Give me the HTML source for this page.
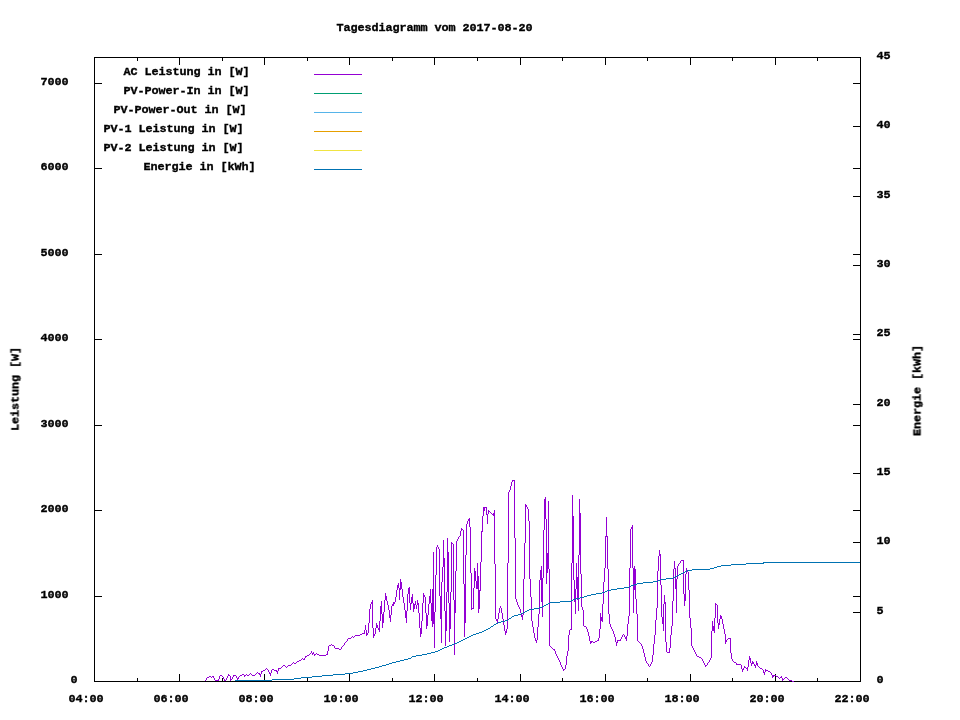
<!DOCTYPE html>
<html><head><meta charset="utf-8"><title>Tagesdiagramm vom 2017-08-20</title>
<style>
html,body{margin:0;padding:0;background:#fff;}
body{width:960px;height:720px;overflow:hidden;}
svg{display:block;}
</style></head><body>
<svg width="960" height="720" viewBox="0 0 960 720">
<rect x="0" y="0" width="960" height="720" fill="#fff"/>
<g shape-rendering="crispEdges">
<rect x="94" y="57" width="767" height="1" fill="#000"/>
<rect x="94" y="681" width="767" height="1" fill="#000"/>
<rect x="94" y="57" width="1" height="625" fill="#000"/>
<rect x="860" y="57" width="1" height="625" fill="#000"/>
<rect x="94" y="674" width="1" height="8" fill="#000"/>
<rect x="94" y="57" width="1" height="8" fill="#000"/>
<rect x="137" y="678" width="1" height="4" fill="#000"/>
<rect x="137" y="57" width="1" height="4" fill="#000"/>
<rect x="179" y="674" width="1" height="8" fill="#000"/>
<rect x="179" y="57" width="1" height="8" fill="#000"/>
<rect x="222" y="678" width="1" height="4" fill="#000"/>
<rect x="222" y="57" width="1" height="4" fill="#000"/>
<rect x="264" y="674" width="1" height="8" fill="#000"/>
<rect x="264" y="57" width="1" height="8" fill="#000"/>
<rect x="307" y="678" width="1" height="4" fill="#000"/>
<rect x="307" y="57" width="1" height="4" fill="#000"/>
<rect x="349" y="674" width="1" height="8" fill="#000"/>
<rect x="349" y="57" width="1" height="8" fill="#000"/>
<rect x="392" y="678" width="1" height="4" fill="#000"/>
<rect x="392" y="57" width="1" height="4" fill="#000"/>
<rect x="434" y="674" width="1" height="8" fill="#000"/>
<rect x="434" y="57" width="1" height="8" fill="#000"/>
<rect x="477" y="678" width="1" height="4" fill="#000"/>
<rect x="477" y="57" width="1" height="4" fill="#000"/>
<rect x="520" y="674" width="1" height="8" fill="#000"/>
<rect x="520" y="57" width="1" height="8" fill="#000"/>
<rect x="562" y="678" width="1" height="4" fill="#000"/>
<rect x="562" y="57" width="1" height="4" fill="#000"/>
<rect x="605" y="674" width="1" height="8" fill="#000"/>
<rect x="605" y="57" width="1" height="8" fill="#000"/>
<rect x="647" y="678" width="1" height="4" fill="#000"/>
<rect x="647" y="57" width="1" height="4" fill="#000"/>
<rect x="690" y="674" width="1" height="8" fill="#000"/>
<rect x="690" y="57" width="1" height="8" fill="#000"/>
<rect x="732" y="678" width="1" height="4" fill="#000"/>
<rect x="732" y="57" width="1" height="4" fill="#000"/>
<rect x="775" y="674" width="1" height="8" fill="#000"/>
<rect x="775" y="57" width="1" height="8" fill="#000"/>
<rect x="817" y="678" width="1" height="4" fill="#000"/>
<rect x="817" y="57" width="1" height="4" fill="#000"/>
<rect x="860" y="674" width="1" height="8" fill="#000"/>
<rect x="860" y="57" width="1" height="8" fill="#000"/>
<rect x="94" y="681" width="8" height="1" fill="#000"/>
<rect x="853" y="681" width="8" height="1" fill="#000"/>
<rect x="94" y="596" width="8" height="1" fill="#000"/>
<rect x="853" y="596" width="8" height="1" fill="#000"/>
<rect x="94" y="510" width="8" height="1" fill="#000"/>
<rect x="853" y="510" width="8" height="1" fill="#000"/>
<rect x="94" y="425" width="8" height="1" fill="#000"/>
<rect x="853" y="425" width="8" height="1" fill="#000"/>
<rect x="94" y="339" width="8" height="1" fill="#000"/>
<rect x="853" y="339" width="8" height="1" fill="#000"/>
<rect x="94" y="254" width="8" height="1" fill="#000"/>
<rect x="853" y="254" width="8" height="1" fill="#000"/>
<rect x="94" y="168" width="8" height="1" fill="#000"/>
<rect x="853" y="168" width="8" height="1" fill="#000"/>
<rect x="94" y="83" width="8" height="1" fill="#000"/>
<rect x="853" y="83" width="8" height="1" fill="#000"/>
<rect x="853" y="681" width="8" height="1" fill="#000"/>
<rect x="853" y="612" width="8" height="1" fill="#000"/>
<rect x="853" y="542" width="8" height="1" fill="#000"/>
<rect x="853" y="473" width="8" height="1" fill="#000"/>
<rect x="853" y="404" width="8" height="1" fill="#000"/>
<rect x="853" y="334" width="8" height="1" fill="#000"/>
<rect x="853" y="265" width="8" height="1" fill="#000"/>
<rect x="853" y="196" width="8" height="1" fill="#000"/>
<rect x="853" y="126" width="8" height="1" fill="#000"/>
<rect x="853" y="57" width="8" height="1" fill="#000"/>
<rect x="314" y="74" width="48" height="1" fill="#9400d3"/>
<rect x="314" y="93" width="48" height="1" fill="#009e73"/>
<rect x="314" y="112" width="48" height="1" fill="#56b4e9"/>
<rect x="314" y="131" width="48" height="1" fill="#e69f00"/>
<rect x="314" y="150" width="48" height="1" fill="#f0e442"/>
<rect x="314" y="169" width="48" height="1" fill="#0072b2"/>
</g>
<path fill="#9400d3" shape-rendering="crispEdges" d="M205 680h1v1h-1zM206 678h1v2h-1zM207 677h1v1h-1zM208 677h1v1h-1zM209 676h1v1h-1zM210 676h1v1h-1zM211 677h1v1h-1zM212 676h1v1h-1zM213 676h1v2h-1zM214 678h1v2h-1zM215 680h1v1h-1zM216 680h1v1h-1zM217 680h1v1h-1zM218 679h1v2h-1zM219 676h1v3h-1zM220 675h1v1h-1zM221 675h1v1h-1zM222 676h1v1h-1zM223 677h1v2h-1zM224 679h1v2h-1zM225 680h1v1h-1zM226 678h1v2h-1zM227 676h1v2h-1zM228 674h1v2h-1zM229 675h1v1h-1zM230 676h1v5h-1zM231 679h1v1h-1zM232 677h1v2h-1zM233 675h1v2h-1zM234 675h1v1h-1zM235 675h1v1h-1zM236 676h1v2h-1zM237 678h1v2h-1zM238 677h1v2h-1zM239 676h1v1h-1zM240 675h1v1h-1zM241 675h1v1h-1zM242 674h1v1h-1zM243 674h1v1h-1zM244 675h1v2h-1zM245 675h1v1h-1zM246 674h1v1h-1zM247 675h1v1h-1zM248 675h1v1h-1zM249 674h1v1h-1zM250 673h1v1h-1zM251 674h1v1h-1zM252 675h1v1h-1zM253 675h1v1h-1zM254 675h1v1h-1zM255 674h1v1h-1zM256 673h1v1h-1zM257 672h1v1h-1zM258 673h1v1h-1zM259 673h1v2h-1zM260 674h1v3h-1zM261 671h1v3h-1zM262 671h1v1h-1zM263 670h1v1h-1zM264 670h1v1h-1zM265 669h1v1h-1zM266 668h1v1h-1zM267 669h1v1h-1zM268 670h1v2h-1zM269 672h1v2h-1zM270 673h1v3h-1zM271 670h1v3h-1zM272 669h1v1h-1zM273 669h1v1h-1zM274 670h1v1h-1zM275 670h1v1h-1zM276 670h1v2h-1zM277 671h1v3h-1zM278 668h1v3h-1zM279 668h1v1h-1zM280 668h1v1h-1zM281 667h1v1h-1zM282 666h1v1h-1zM283 665h1v1h-1zM284 665h1v1h-1zM285 666h1v1h-1zM286 667h1v1h-1zM287 666h1v1h-1zM288 665h1v1h-1zM289 665h1v1h-1zM290 665h1v1h-1zM291 664h1v1h-1zM292 663h1v1h-1zM293 662h1v1h-1zM294 663h1v1h-1zM295 663h1v1h-1zM296 662h1v1h-1zM297 661h1v1h-1zM298 661h1v1h-1zM299 660h1v1h-1zM300 660h1v1h-1zM301 659h1v1h-1zM302 658h1v1h-1zM303 659h1v1h-1zM304 658h1v2h-1zM305 656h1v2h-1zM306 656h1v1h-1zM307 655h1v1h-1zM308 655h1v1h-1zM309 654h1v1h-1zM310 653h1v1h-1zM311 651h1v2h-1zM312 653h1v2h-1zM313 652h1v2h-1zM314 654h1v2h-1zM315 654h1v1h-1zM316 653h1v1h-1zM317 654h1v1h-1zM318 654h1v1h-1zM319 655h1v1h-1zM320 655h1v1h-1zM321 655h1v1h-1zM322 655h1v1h-1zM323 655h1v1h-1zM324 655h1v1h-1zM325 655h1v1h-1zM326 654h1v1h-1zM327 651h1v4h-1zM328 646h1v5h-1zM329 645h1v1h-1zM330 645h1v1h-1zM331 644h1v1h-1zM332 645h1v1h-1zM333 645h1v1h-1zM334 646h1v2h-1zM335 648h1v1h-1zM336 648h1v1h-1zM337 648h1v1h-1zM338 648h1v1h-1zM339 649h1v1h-1zM340 649h1v1h-1zM341 647h1v2h-1zM342 646h1v1h-1zM343 645h1v1h-1zM344 643h1v2h-1zM345 642h1v1h-1zM346 641h1v1h-1zM347 639h1v2h-1zM348 638h1v1h-1zM349 638h1v1h-1zM350 638h1v1h-1zM351 637h1v1h-1zM352 636h1v1h-1zM353 637h1v1h-1zM354 636h1v1h-1zM355 635h1v1h-1zM356 635h1v1h-1zM357 635h1v1h-1zM358 635h1v1h-1zM359 635h1v1h-1zM360 634h1v1h-1zM361 634h1v1h-1zM362 633h1v1h-1zM363 633h1v1h-1zM364 630h1v4h-1zM365 625h1v5h-1zM366 630h1v6h-1zM367 633h1v2h-1zM368 623h1v10h-1zM369 609h1v14h-1zM370 604h1v5h-1zM371 602h1v2h-1zM372 600h1v28h-1zM373 628h1v10h-1zM374 634h1v2h-1zM375 628h1v6h-1zM376 623h1v5h-1zM377 625h1v3h-1zM378 628h1v2h-1zM379 621h1v11h-1zM380 606h1v15h-1zM381 601h1v13h-1zM382 614h1v14h-1zM383 612h1v11h-1zM384 600h1v12h-1zM385 593h1v7h-1zM386 596h1v5h-1zM387 601h1v4h-1zM388 605h1v5h-1zM389 610h1v8h-1zM390 615h1v7h-1zM391 606h1v9h-1zM392 604h1v2h-1zM393 602h1v4h-1zM394 602h1v2h-1zM395 597h1v5h-1zM396 590h1v7h-1zM397 585h1v5h-1zM398 583h1v5h-1zM399 588h1v12h-1zM400 579h1v11h-1zM401 582h1v7h-1zM402 589h1v8h-1zM403 597h1v6h-1zM404 603h1v7h-1zM405 610h1v8h-1zM406 611h1v12h-1zM407 594h1v17h-1zM408 588h1v6h-1zM409 587h1v16h-1zM410 603h1v7h-1zM411 597h1v7h-1zM412 594h1v9h-1zM413 603h1v9h-1zM414 604h1v5h-1zM415 601h1v4h-1zM416 605h1v4h-1zM417 600h1v5h-1zM418 603h1v10h-1zM419 613h1v15h-1zM420 628h1v9h-1zM421 621h1v13h-1zM422 603h1v18h-1zM423 593h1v10h-1zM424 595h1v2h-1zM425 597h1v16h-1zM426 613h1v16h-1zM427 615h1v11h-1zM428 604h1v11h-1zM429 596h1v8h-1zM430 589h1v14h-1zM431 603h1v18h-1zM432 589h1v38h-1zM433 552h1v72h-1zM434 612h1v36h-1zM435 575h1v37h-1zM436 547h1v28h-1zM437 545h1v2h-1zM438 547h1v2h-1zM439 549h1v47h-1zM440 596h1v23h-1zM441 582h1v61h-1zM442 567h1v15h-1zM443 540h1v27h-1zM444 558h1v53h-1zM445 611h1v35h-1zM446 592h1v39h-1zM447 538h1v54h-1zM448 552h1v51h-1zM449 603h1v39h-1zM450 592h1v37h-1zM451 542h1v50h-1zM452 543h1v1h-1zM453 544h1v56h-1zM454 600h1v55h-1zM455 571h1v42h-1zM456 541h1v30h-1zM457 539h1v2h-1zM458 537h1v2h-1zM459 536h1v1h-1zM460 531h1v5h-1zM461 528h1v3h-1zM462 529h1v1h-1zM463 530h1v54h-1zM464 584h1v53h-1zM465 555h1v68h-1zM466 524h1v31h-1zM467 521h1v3h-1zM468 519h1v2h-1zM469 518h1v9h-1zM470 527h1v46h-1zM471 573h1v37h-1zM472 608h1v1h-1zM473 588h1v21h-1zM474 568h1v20h-1zM475 571h1v10h-1zM476 581h1v8h-1zM477 563h1v26h-1zM478 576h1v37h-1zM479 590h1v19h-1zM480 562h1v29h-1zM481 531h1v31h-1zM482 516h1v16h-1zM483 507h1v9h-1zM484 507h1v4h-1zM485 507h1v1h-1zM486 507h1v8h-1zM487 514h1v10h-1zM488 510h1v4h-1zM489 511h1v1h-1zM490 512h1v1h-1zM491 513h1v1h-1zM492 514h1v1h-1zM493 513h1v3h-1zM494 510h1v54h-1zM495 564h1v55h-1zM496 619h1v2h-1zM497 619h1v4h-1zM498 613h1v6h-1zM499 608h1v5h-1zM500 606h1v2h-1zM501 608h1v5h-1zM502 613h1v6h-1zM503 619h1v6h-1zM504 625h1v6h-1zM505 631h1v4h-1zM506 629h1v4h-1zM507 563h1v66h-1zM508 492h1v71h-1zM509 490h1v2h-1zM510 486h1v4h-1zM511 482h1v4h-1zM512 480h1v2h-1zM513 480h1v1h-1zM514 480h1v58h-1zM515 538h1v61h-1zM516 599h1v3h-1zM517 602h1v3h-1zM518 605h1v2h-1zM519 607h1v2h-1zM520 609h1v4h-1zM521 613h1v4h-1zM522 615h1v5h-1zM523 579h1v36h-1zM524 543h1v36h-1zM525 504h1v39h-1zM526 505h1v2h-1zM527 507h1v2h-1zM528 509h1v12h-1zM529 521h1v58h-1zM530 579h1v18h-1zM531 597h1v24h-1zM532 621h1v6h-1zM533 627h1v6h-1zM534 633h1v5h-1zM535 638h1v3h-1zM536 640h1v3h-1zM537 627h1v13h-1zM538 614h1v13h-1zM539 580h1v34h-1zM540 570h1v10h-1zM541 566h1v36h-1zM542 578h1v39h-1zM543 530h1v48h-1zM544 499h1v31h-1zM545 497h1v22h-1zM546 519h1v65h-1zM547 553h1v20h-1zM548 501h1v68h-1zM549 569h1v77h-1zM550 646h1v1h-1zM551 647h1v1h-1zM552 648h1v1h-1zM553 649h1v1h-1zM554 649h1v2h-1zM555 651h1v3h-1zM556 654h1v2h-1zM557 656h1v2h-1zM558 658h1v2h-1zM559 660h1v2h-1zM560 662h1v3h-1zM561 665h1v2h-1zM562 667h1v2h-1zM563 669h1v2h-1zM564 669h1v1h-1zM565 665h1v4h-1zM566 656h1v9h-1zM567 651h1v5h-1zM568 635h1v16h-1zM569 630h1v5h-1zM570 629h1v1h-1zM571 563h1v67h-1zM572 495h1v68h-1zM573 516h1v64h-1zM574 580h1v22h-1zM575 589h1v25h-1zM576 563h1v26h-1zM577 577h1v23h-1zM578 555h1v56h-1zM579 499h1v56h-1zM580 513h1v61h-1zM581 574h1v33h-1zM582 607h1v3h-1zM583 610h1v16h-1zM584 626h1v1h-1zM585 626h1v1h-1zM586 627h1v2h-1zM587 629h1v3h-1zM588 632h1v4h-1zM589 636h1v5h-1zM590 641h1v3h-1zM591 641h1v2h-1zM592 641h1v1h-1zM593 642h1v1h-1zM594 642h1v1h-1zM595 641h1v1h-1zM596 641h1v1h-1zM597 640h1v1h-1zM598 638h1v3h-1zM599 629h1v9h-1zM600 613h1v16h-1zM601 617h1v4h-1zM602 604h1v18h-1zM603 582h1v22h-1zM604 568h1v14h-1zM605 536h1v32h-1zM606 517h1v20h-1zM607 536h1v33h-1zM608 569h1v45h-1zM609 614h1v10h-1zM610 624h1v3h-1zM611 627h1v2h-1zM612 629h1v2h-1zM613 631h1v3h-1zM614 634h1v3h-1zM615 637h1v5h-1zM616 642h1v4h-1zM617 640h1v3h-1zM618 640h1v1h-1zM619 640h1v1h-1zM620 639h1v2h-1zM621 637h1v2h-1zM622 635h1v2h-1zM623 634h1v1h-1zM624 635h1v2h-1zM625 637h1v2h-1zM626 636h1v5h-1zM627 624h1v12h-1zM628 616h1v8h-1zM629 568h1v48h-1zM630 529h1v39h-1zM631 527h1v2h-1zM632 525h1v43h-1zM633 568h1v45h-1zM634 566h1v24h-1zM635 569h1v30h-1zM636 599h1v15h-1zM637 614h1v27h-1zM638 641h1v1h-1zM639 642h1v1h-1zM640 643h1v1h-1zM641 644h1v2h-1zM642 646h1v3h-1zM643 649h1v4h-1zM644 653h1v4h-1zM645 657h1v4h-1zM646 661h1v2h-1zM647 663h1v1h-1zM648 664h1v2h-1zM649 666h1v1h-1zM650 664h1v2h-1zM651 662h1v2h-1zM652 655h1v7h-1zM653 644h1v11h-1zM654 635h1v9h-1zM655 620h1v15h-1zM656 608h1v12h-1zM657 571h1v37h-1zM658 556h1v15h-1zM659 550h1v6h-1zM660 554h1v31h-1zM661 585h1v32h-1zM662 617h1v7h-1zM663 604h1v27h-1zM664 595h1v9h-1zM665 602h1v40h-1zM666 642h1v10h-1zM667 652h1v1h-1zM668 652h1v1h-1zM669 648h1v5h-1zM670 635h1v13h-1zM671 626h1v9h-1zM672 601h1v25h-1zM673 569h1v32h-1zM674 561h1v8h-1zM675 568h1v21h-1zM676 579h1v34h-1zM677 566h1v13h-1zM678 564h1v2h-1zM679 563h1v1h-1zM680 561h1v2h-1zM681 560h1v1h-1zM682 560h1v1h-1zM683 560h1v34h-1zM684 594h1v12h-1zM685 574h1v27h-1zM686 568h1v6h-1zM687 570h1v2h-1zM688 572h1v18h-1zM689 590h1v28h-1zM690 618h1v10h-1zM691 628h1v18h-1zM692 646h1v2h-1zM693 648h1v2h-1zM694 650h1v2h-1zM695 652h1v2h-1zM696 654h1v2h-1zM697 656h1v1h-1zM698 656h1v1h-1zM699 657h1v1h-1zM700 657h1v1h-1zM701 658h1v1h-1zM702 659h1v2h-1zM703 661h1v2h-1zM704 663h1v2h-1zM705 665h1v2h-1zM706 665h1v1h-1zM707 663h1v2h-1zM708 662h1v1h-1zM709 660h1v2h-1zM710 658h1v2h-1zM711 631h1v27h-1zM712 621h1v10h-1zM713 626h1v5h-1zM714 618h1v15h-1zM715 603h1v15h-1zM716 604h1v1h-1zM717 605h1v18h-1zM718 623h1v6h-1zM719 619h1v6h-1zM720 615h1v4h-1zM721 616h1v3h-1zM722 619h1v5h-1zM723 624h1v5h-1zM724 629h1v5h-1zM725 634h1v10h-1zM726 640h1v2h-1zM727 639h1v1h-1zM728 638h1v1h-1zM729 638h1v1h-1zM730 638h1v15h-1zM731 653h1v6h-1zM732 659h1v2h-1zM733 661h1v1h-1zM734 662h1v1h-1zM735 662h1v1h-1zM736 663h1v2h-1zM737 664h1v1h-1zM738 664h1v1h-1zM739 664h1v1h-1zM740 664h1v1h-1zM741 665h1v4h-1zM742 669h1v3h-1zM743 668h1v2h-1zM744 666h1v2h-1zM745 667h1v1h-1zM746 668h1v1h-1zM747 667h1v4h-1zM748 660h1v7h-1zM749 656h1v4h-1zM750 658h1v5h-1zM751 663h1v3h-1zM752 661h1v3h-1zM753 662h1v2h-1zM754 664h1v2h-1zM755 665h1v3h-1zM756 661h1v4h-1zM757 663h1v3h-1zM758 666h1v1h-1zM759 667h1v1h-1zM760 668h1v1h-1zM761 668h1v1h-1zM762 669h1v1h-1zM763 670h1v3h-1zM764 672h1v3h-1zM765 669h1v3h-1zM766 670h1v1h-1zM767 670h1v1h-1zM768 671h1v1h-1zM769 671h1v1h-1zM770 672h1v1h-1zM771 673h1v2h-1zM772 675h1v3h-1zM773 675h1v2h-1zM774 675h1v1h-1zM775 675h1v1h-1zM776 676h1v1h-1zM777 676h1v1h-1zM778 677h1v1h-1zM779 678h1v1h-1zM780 677h1v1h-1zM781 676h1v2h-1zM782 678h1v3h-1zM783 679h1v1h-1zM784 678h1v1h-1zM785 677h1v1h-1zM786 677h1v1h-1zM787 678h1v1h-1zM788 679h1v1h-1zM789 680h1v1h-1zM790 680h1v1h-1zM791 680h1v1h-1zM792 681h1v1h-1zM793 681h1v1h-1z"/>
<path fill="#0072b2" shape-rendering="crispEdges" d="M763 562v1h97v-1zM746 563v1h18v-1zM731 564v1h15v-1zM721 565v1h10v-1zM717 566v1h4v-1zM714 567v1h3v-1zM710 568v1h4v-1zM692 569v1h18v-1zM687 570v1h5v-1zM685 571v1h2v-1zM683 572v1h2v-1zM681 573v1h2v-1zM679 574v1h2v-1zM677 575v1h2v-1zM675 576v1h2v-1zM673 577v1h2v-1zM666 578v1h7v-1zM660 579v1h6v-1zM658 580v1h2v-1zM653 581v1h5v-1zM643 582v1h10v-1zM637 583v1h6v-1zM634 584v1h3v-1zM631 585v1h3v-1zM629 586v1h2v-1zM624 587v1h5v-1zM617 588v1h7v-1zM611 589v1h6v-1zM607 590v1h4v-1zM605 591v1h2v-1zM602 592v1h3v-1zM596 593v1h6v-1zM591 594v1h5v-1zM587 595v1h4v-1zM584 596v1h3v-1zM580 597v1h4v-1zM576 598v1h4v-1zM573 599v1h3v-1zM571 600v1h2v-1zM560 601v1h11v-1zM550 602v1h10v-1zM548 603v1h2v-1zM546 604v1h2v-1zM544 605v1h2v-1zM542 606v1h2v-1zM539 607v1h3v-1zM534 608v1h5v-1zM529 609v1h5v-1zM527 610v1h2v-1zM525 611v1h2v-1zM523 612v1h2v-1zM521 613v1h2v-1zM518 614v1h3v-1zM514 615v1h4v-1zM512 616v1h2v-1zM511 617v1h1v-1zM509 618v1h2v-1zM508 619v1h1v-1zM505 620v1h3v-1zM501 621v1h4v-1zM498 622v1h3v-1zM496 623v1h2v-1zM494 624v1h2v-1zM493 625v1h1v-1zM491 626v1h2v-1zM490 627v1h1v-1zM488 628v1h2v-1zM486 629v1h2v-1zM484 630v1h2v-1zM482 631v1h2v-1zM479 632v1h3v-1zM476 633v1h3v-1zM473 634v1h3v-1zM471 635v1h2v-1zM469 636v1h2v-1zM467 637v1h2v-1zM465 638v1h2v-1zM463 639v1h2v-1zM461 640v1h2v-1zM459 641v1h2v-1zM457 642v1h2v-1zM454 643v1h3v-1zM452 644v1h2v-1zM449 645v1h3v-1zM447 646v1h2v-1zM444 647v1h3v-1zM442 648v1h2v-1zM440 649v1h2v-1zM438 650v1h2v-1zM435 651v1h3v-1zM431 652v1h4v-1zM427 653v1h4v-1zM422 654v1h5v-1zM416 655v1h6v-1zM412 656v1h4v-1zM411 657v1h1v-1zM408 658v1h3v-1zM404 659v1h4v-1zM400 660v1h4v-1zM396 661v1h4v-1zM392 662v1h4v-1zM389 663v1h3v-1zM386 664v1h3v-1zM382 665v1h4v-1zM379 666v1h3v-1zM375 667v1h4v-1zM371 668v1h4v-1zM367 669v1h4v-1zM363 670v1h4v-1zM358 671v1h5v-1zM353 672v1h5v-1zM345 673v1h8v-1zM333 674v1h12v-1zM322 675v1h11v-1zM312 676v1h10v-1zM301 677v1h11v-1zM294 678v1h7v-1zM272 679v1h22v-1zM235 680v1h37v-1z"/>
<g font-family="'Liberation Mono', monospace" font-weight="bold" font-size="11.8px" stroke="#000" stroke-width="0.35" fill="#000" transform="translate(-0.5,0)" style="filter:grayscale(1)">
<text x="337" y="31" textLength="196" lengthAdjust="spacing">Tagesdiagramm vom 2017-08-20</text>
<text x="71" y="682.5" textLength="7" lengthAdjust="spacing">0</text>
<text x="41" y="597.5" textLength="28" lengthAdjust="spacing">1000</text>
<text x="41" y="511.5" textLength="28" lengthAdjust="spacing">2000</text>
<text x="41" y="426.5" textLength="28" lengthAdjust="spacing">3000</text>
<text x="41" y="340.5" textLength="28" lengthAdjust="spacing">4000</text>
<text x="41" y="255.5" textLength="28" lengthAdjust="spacing">5000</text>
<text x="41" y="169.5" textLength="28" lengthAdjust="spacing">6000</text>
<text x="41" y="84.5" textLength="28" lengthAdjust="spacing">7000</text>
<text x="877" y="682.5" textLength="7" lengthAdjust="spacing">0</text>
<text x="877" y="613.5" textLength="7" lengthAdjust="spacing">5</text>
<text x="877" y="543.5" textLength="14" lengthAdjust="spacing">10</text>
<text x="877" y="474.5" textLength="14" lengthAdjust="spacing">15</text>
<text x="877" y="405.5" textLength="14" lengthAdjust="spacing">20</text>
<text x="877" y="335.5" textLength="14" lengthAdjust="spacing">25</text>
<text x="877" y="266.5" textLength="14" lengthAdjust="spacing">30</text>
<text x="877" y="197.5" textLength="14" lengthAdjust="spacing">35</text>
<text x="877" y="127.5" textLength="14" lengthAdjust="spacing">40</text>
<text x="877" y="58.5" textLength="14" lengthAdjust="spacing">45</text>
<text x="69" y="702" textLength="35" lengthAdjust="spacing">04:00</text>
<text x="154" y="702" textLength="35" lengthAdjust="spacing">06:00</text>
<text x="239" y="702" textLength="35" lengthAdjust="spacing">08:00</text>
<text x="324" y="702" textLength="35" lengthAdjust="spacing">10:00</text>
<text x="409" y="702" textLength="35" lengthAdjust="spacing">12:00</text>
<text x="495" y="702" textLength="35" lengthAdjust="spacing">14:00</text>
<text x="580" y="702" textLength="35" lengthAdjust="spacing">16:00</text>
<text x="665" y="702" textLength="35" lengthAdjust="spacing">18:00</text>
<text x="750" y="702" textLength="35" lengthAdjust="spacing">20:00</text>
<text x="835" y="702" textLength="35" lengthAdjust="spacing">22:00</text>
<text x="124" y="75.4" textLength="126" lengthAdjust="spacing">AC Leistung in [W]</text>
<text x="124" y="94.4" textLength="126" lengthAdjust="spacing">PV-Power-In in [W]</text>
<text x="114" y="113.4" textLength="133" lengthAdjust="spacing">PV-Power-Out in [W]</text>
<text x="104" y="132.4" textLength="140" lengthAdjust="spacing">PV-1 Leistung in [W]</text>
<text x="104" y="151.4" textLength="140" lengthAdjust="spacing">PV-2 Leistung in [W]</text>
<text x="144" y="170.4" textLength="112" lengthAdjust="spacing">Energie in [kWh]</text>
<text x="0" y="0" textLength="84" lengthAdjust="spacing" transform="translate(19,431) rotate(-90)">Leistung [W]</text>
<text x="0" y="0" textLength="91" lengthAdjust="spacing" transform="translate(921,436) rotate(-90)">Energie [kWh]</text>
</g>
</svg>
</body></html>
